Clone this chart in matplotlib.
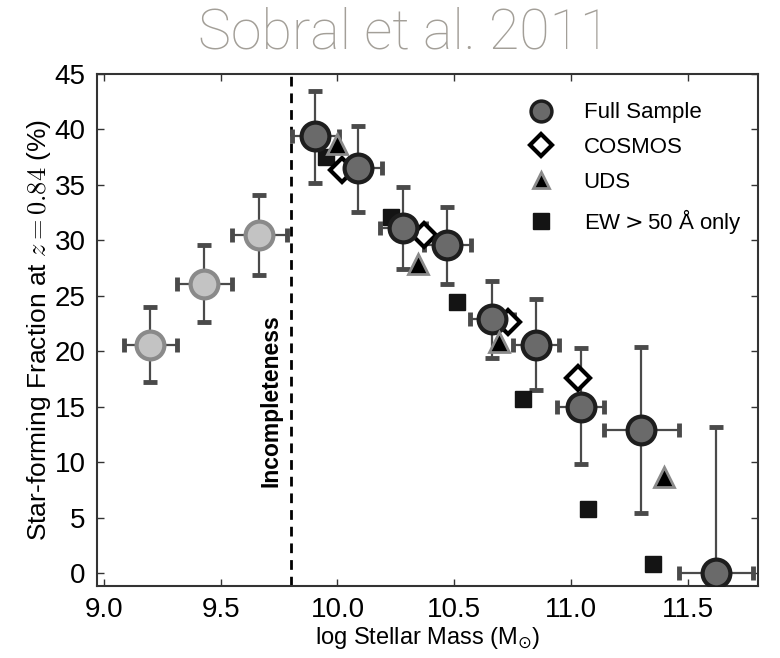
import matplotlib
matplotlib.use('Agg')
import matplotlib.pyplot as plt
from matplotlib.lines import Line2D

# full sample (above the completeness limit)
full_mass = [9.905, 10.09, 10.28, 10.47, 10.66, 10.85, 11.04, 11.30, 11.62]
full_frac = [39.4, 36.5, 31.1, 29.6, 22.9, 20.6, 15.0, 12.9, 0.0]
full_err_lo = [4.2, 3.9, 3.7, 3.5, 3.5, 4.1, 5.2, 7.5, 0.0]
full_err_hi = [4.1, 3.8, 3.7, 3.4, 3.45, 4.1, 5.3, 7.5, 13.2]
full_mass_err = [0.10, 0.10, 0.10, 0.10, 0.095, 0.10, 0.10, 0.16, 0.16]

# bins below the completeness limit
inc_mass = [9.20, 9.43, 9.665]
inc_frac = [20.6, 26.1, 30.5]
inc_err = [3.4, 3.45, 3.6]
inc_mass_err = [0.115, 0.117, 0.117]

cosmos_mass = [10.02, 10.37, 10.73, 11.03]
cosmos_frac = [36.3, 30.5, 22.65, 17.6]

uds_mass = [9.998, 10.343, 10.69, 11.395]
uds_frac = [38.7, 27.9, 20.85, 8.66]

ew_mass = [9.952, 10.23, 10.51, 10.795, 11.07, 11.35]
ew_frac = [37.55, 32.1, 24.4, 15.65, 5.8, 0.85]

mass_limit = 9.80

plt.rcParams['font.family'] = ['Liberation Sans', 'DejaVu Sans']

fig = plt.figure(figsize=(7.8, 6.58), dpi=100)
ax = fig.add_axes([0.124, 0.109, 0.848, 0.7785])

err_kw = dict(fmt='none', ecolor='#4a4a4a', elinewidth=1.6, capsize=5, capthick=3.5, zorder=2)

ax.errorbar(inc_mass, inc_frac, yerr=inc_err, xerr=inc_mass_err, **err_kw)
ax.plot(inc_mass, inc_frac, 'o', ms=20, mfc='#c3c3c3', mec='#8a8a8a', mew=3, zorder=3)

ax.errorbar(full_mass, full_frac, yerr=[full_err_lo, full_err_hi], xerr=full_mass_err, **err_kw)

ax.plot(ew_mass, ew_frac, 's', ms=11, mfc='#141414', mec='#141414', mew=1, zorder=3)
ax.plot(cosmos_mass, cosmos_frac, 'D', ms=12, mfc='white', mec='black', mew=3, zorder=3)
ax.plot(full_mass, full_frac, 'o', ms=20, mfc='#6a6a6a', mec='#1e1e1e', mew=3, zorder=4)
ax.plot(uds_mass, uds_frac, '^', ms=15, mfc='black', mec='#8a8a8a', mew=2, zorder=5)

ax.axvline(mass_limit, color='black', ls=(0, (3.5, 2.5)), lw=2, zorder=1)
ax.text(9.715, 15.5, 'Incompleteness', rotation=90, fontsize=16.5, fontweight='bold',
        ha='center', va='center')

ax.set_xlim(8.97, 11.8)
ax.set_ylim(-1.2, 45)
ax.set_xticks([9.0, 9.5, 10.0, 10.5, 11.0, 11.5])
ax.set_yticks(range(0, 46, 5))
ax.tick_params(direction='in', top=True, right=True, length=5, width=1,
               labelsize=20, color='#333333', pad=8)
for s in ax.spines.values():
    s.set_color('#333333')
    s.set_linewidth(1.5)

ax.set_xlabel(r'log Stellar Mass (M$_{\odot}$)', fontsize=17, labelpad=1)
ax.set_ylabel(r'Star-forming Fraction at $z = 0.84$ (%)', fontsize=19,
              math_fontfamily='cm', labelpad=1)

handles = [
    Line2D([], [], ls='none', marker='o', ms=15, mfc='#6a6a6a', mec='#1e1e1e', mew=2.5),
    Line2D([], [], ls='none', marker='D', ms=11, mfc='white', mec='black', mew=3),
    Line2D([], [], ls='none', marker='^', ms=11, mfc='black', mec='#8a8a8a', mew=2),
    Line2D([], [], ls='none', marker='s', ms=11, mfc='#141414', mec='#141414'),
]
labels = ['Full Sample', 'COSMOS', 'UDS', r'EW$>$50 Å only']
ax.legend(handles, labels, loc='upper left', bbox_to_anchor=(0.605, 0.988), frameon=False,
          fontsize=16, labelspacing=0.62, handletextpad=0.9, borderaxespad=0.6)

fig.text(0.518, 0.95, 'Sobral et al. 2011', fontsize=40, color='#a39f98',
         family=['Roboto', 'DejaVu Sans'], fontweight='light', ha='center', va='center')

fig.savefig('out.png', dpi=100)
